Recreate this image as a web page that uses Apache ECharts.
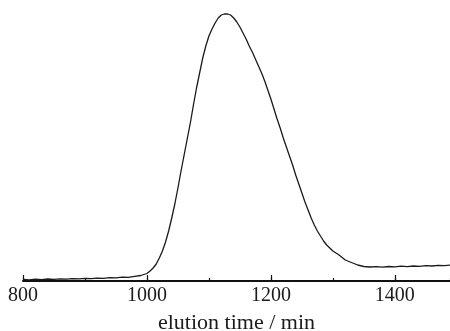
<!DOCTYPE html>
<html>
<head>
<meta charset="utf-8">
<script src="https://cdn.jsdelivr.net/npm/echarts@6/dist/echarts.min.js"></script>
<style>html,body{margin:0;padding:0;background:#fff;}#c{width:450px;height:331px;}</style>
</head>
<body>
<div id="c"></div>
<script>
var elutionTime = [800,810,820,830,840,850,860,870,880,890,900,910,920,930,940,950,960,970,980,990,1000,
1005,1010,1015,1020,1025,1030,1035,1040,1045,1050,1055,1060,1065,1070,1075,1080,1085,1090,1095,1100,
1105,1110,1115,1120,1125,1130,1135,1140,1145,1150,1155,1160,1165,1170,1175,1180,1185,1190,1195,1200,
1205,1210,1215,1220,1225,1230,1235,1240,1245,1250,1255,1260,1265,1270,1275,1280,1285,1290,1295,1300,
1310,1320,1330,1340,1350,1360,1370,1380,1390,1400,1410,1420,1430,1440,1450,1460,1470,1480,1489];
var signal = [1.5,1.2,1.8,1.4,2.0,1.6,2.2,1.9,2.4,2.1,2.6,2.3,2.9,2.7,3.3,3.1,3.8,3.6,4.6,5.5,7.5,
10,13,17,23,30,39,50,63,77,93,110,126,142,158,176,193,208,223,235,245,
252,258,263,266,267,267,266,263,259,254,248,242,235,229,222,215,208,200,191,182,
172,162,153,143,134,125,116,106,97,88,79,71,63,56,50,45,40,36,33,30,
26,21,18.5,16,14.5,14,14.3,13.8,14.5,14.2,14.8,14.4,15,14.6,15.3,15,15.6,15.3,15.8];
var xMin = 800, xMax = 1489;
var xLabelValues = [800, 1000, 1200, 1400];
var xTitle = 'elution time / min';

var data = elutionTime.map(function(t, i){ return [t, signal[i]]; });
var chart = echarts.init(document.getElementById('c'));
var serif = '"Liberation Serif", "Times New Roman", serif';
chart.setOption({
  animation: false,
  grid: {left: 23, right: 0, top: 0, bottom: 50, containLabel: false, outerBoundsMode: 'none'},
  xAxis: [{
    type: 'value', min: xMin, max: xMax, interval: 200, position: 'bottom',
    name: xTitle, nameLocation: 'middle', nameGap: 31,
    nameTextStyle: {fontFamily: serif, fontSize: 22, color: '#1a1a1a'},
    axisLine: {show: true, onZero: false, lineStyle: {color: '#111', width: 2}},
    axisTick: {show: true, inside: true, length: 6, lineStyle: {color: '#111', width: 1.2}},
    minorTick: {show: false},
    splitLine: {show: false},
    axisLabel: {show: true, margin: 5, showMaxLabel: false, fontFamily: serif, fontSize: 20, color: '#1a1a1a',
      formatter: function(v){ return xLabelValues.indexOf(v) >= 0 ? String(v) : ''; }}
  }, {
    type: 'value', min: xMin, max: xMax, interval: 100, position: 'bottom', offset: 0,
    axisLine: {show: false, onZero: false},
    axisTick: {show: true, inside: true, length: 3, lineStyle: {color: '#111', width: 1.2}},
    axisLabel: {show: false}, splitLine: {show: false}
  }],
  yAxis: {type: 'value', min: 0, max: 281, show: false, splitLine: {show: false}},
  series: [{
    type: 'line', data: data, xAxisIndex: 0, showSymbol: false, smooth: false,
    lineStyle: {color: '#1a1a1a', width: 1.3}
  }]
});
</script>
</body>
</html>
